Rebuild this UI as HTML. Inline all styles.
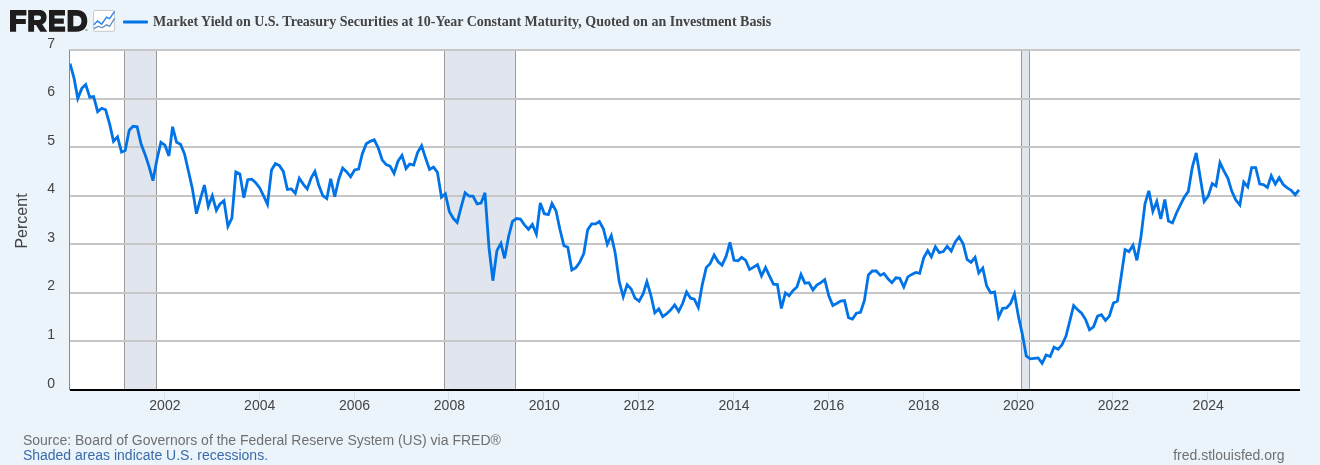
<!DOCTYPE html>
<html><head><meta charset="utf-8"><style>
html,body{margin:0;padding:0;background:#ebf3fb;width:1320px;height:465px;overflow:hidden}
svg{display:block;will-change:transform}
</style></head><body>
<svg width="1320" height="465" viewBox="0 0 1320 465">
<rect x="0" y="0" width="1320" height="465" fill="#ebf3fb"/>
<path fill="#1f1c1d" d="M10 10 H26.4 V15.4 H16.1 V19 H25.8 V23.9 H16.1 V31.7 H10 Z"/>
<path fill="#1f1c1d" fill-rule="evenodd" d="M28.2 10 H39 C44 10 46.6 12.6 46.6 17.3 C46.6 20.8 45 23.2 42.2 24.3 L47.2 31.7 H40.3 L36 25.1 H34.1 V31.7 H28.2 Z M34.1 15.5 V19.9 H38.8 C40.3 19.9 41 19.1 41 17.7 C41 16.3 40.3 15.5 38.8 15.5 Z"/>
<path fill="#1f1c1d" d="M49 10 H65 V15.4 H54.5 V18.5 H63.8 V23.7 H54.5 V26.5 H65.1 V31.7 H49 Z"/>
<path fill="#1f1c1d" fill-rule="evenodd" d="M67.6 10 H76.5 C83.5 10 87.3 14.3 87.3 20.85 C87.3 27.4 83.5 31.7 76.5 31.7 H67.6 Z M73.3 15.7 V26.2 H76.3 C79.7 26.2 81.5 24.3 81.5 20.95 C81.5 17.6 79.7 15.7 76.3 15.7 Z"/>
<circle cx="86.4" cy="30.1" r="1.15" fill="#a0a0a0"/>
<rect x="93.6" y="10.5" width="20.8" height="20.8" rx="1.2" fill="#fff" stroke="#c2c2c2" stroke-width="0.9"/>
<polyline points="93.9,24.8 97.5,21.1 101.7,24.2 106.5,17.2 109.6,18.6 114.6,11.4" fill="none" stroke="#2f86ea" stroke-width="1.5"/>
<polyline points="93.9,28.7 98.4,26.2 102,27.8 106.5,24.8 109.6,26.4 114.6,18.4" fill="none" stroke="#6590c0" stroke-width="1.4"/>
<rect x="123" y="20.4" width="25" height="3.2" rx="1" fill="#0073e6"/>
<text x="153" y="25.8" font-family="Liberation Serif" font-weight="bold" font-size="14" fill="#444444">Market Yield on U.S. Treasury Securities at 10-Year Constant Maturity, Quoted on an Investment Basis</text>
<defs><clipPath id="pc"><rect x="70" y="45" width="1230" height="345"/></clipPath></defs><rect x="69.5" y="50" width="1230.5" height="340" fill="#ffffff"/>
<rect x="124" y="50" width="32" height="340" fill="#e1e6ee"/><line x1="124.5" y1="50" x2="124.5" y2="390" stroke="#999" stroke-width="1"/><line x1="156.5" y1="50" x2="156.5" y2="390" stroke="#999" stroke-width="1"/><rect x="444" y="50" width="71" height="340" fill="#e1e6ee"/><line x1="444.5" y1="50" x2="444.5" y2="390" stroke="#999" stroke-width="1"/><line x1="515.5" y1="50" x2="515.5" y2="390" stroke="#999" stroke-width="1"/><rect x="1021" y="50" width="8" height="340" fill="#e1e6ee"/><line x1="1021.5" y1="50" x2="1021.5" y2="390" stroke="#999" stroke-width="1"/><line x1="1029.5" y1="50" x2="1029.5" y2="390" stroke="#999" stroke-width="1"/>
<line x1="69.5" y1="341" x2="1300" y2="341" stroke="#c6c6c6" stroke-width="2"/><line x1="69.5" y1="293" x2="1300" y2="293" stroke="#c6c6c6" stroke-width="2"/><line x1="69.5" y1="244" x2="1300" y2="244" stroke="#c6c6c6" stroke-width="2"/><line x1="69.5" y1="196" x2="1300" y2="196" stroke="#c6c6c6" stroke-width="2"/><line x1="69.5" y1="147" x2="1300" y2="147" stroke="#c6c6c6" stroke-width="2"/><line x1="69.5" y1="99" x2="1300" y2="99" stroke="#c6c6c6" stroke-width="2"/><line x1="69.5" y1="50" x2="1300" y2="50" stroke="#c6c6c6" stroke-width="2"/>
<line x1="69.5" y1="50" x2="69.5" y2="390" stroke="#888" stroke-width="1"/>
<path d="M70.00 63.60 L74.03 78.17 L77.79 98.57 L81.82 88.37 L85.71 84.49 L89.74 97.11 L93.63 96.63 L97.66 111.69 L101.68 108.29 L105.58 109.74 L109.60 123.83 L113.50 141.31 L117.52 136.94 L121.55 152.00 L125.18 150.54 L129.21 130.14 L133.10 126.26 L137.13 126.74 L141.02 143.74 L145.05 154.43 L149.07 166.57 L152.97 180.66 L156.99 159.29 L160.89 142.29 L164.91 145.20 L168.94 155.89 L172.57 126.74 L176.60 142.29 L180.49 144.23 L184.52 153.94 L188.41 170.94 L192.44 188.91 L196.46 213.69 L200.36 199.11 L204.38 185.03 L208.28 206.40 L212.30 195.71 L216.33 210.29 L219.97 203.97 L223.99 200.57 L227.89 226.31 L231.91 218.06 L235.81 171.91 L239.83 173.86 L243.86 197.66 L247.75 179.69 L251.78 179.20 L255.67 182.60 L259.70 187.94 L263.72 196.20 L267.49 204.46 L271.51 169.97 L275.41 163.66 L279.43 165.60 L283.33 171.43 L287.35 189.40 L291.38 188.91 L295.27 193.29 L299.30 178.23 L303.19 184.06 L307.22 188.91 L311.24 177.74 L314.88 171.43 L318.90 185.51 L322.80 195.71 L326.82 198.63 L330.72 178.71 L334.74 196.69 L338.77 179.20 L342.66 168.03 L346.69 171.91 L350.58 176.77 L354.61 169.97 L358.63 169.00 L362.27 153.94 L366.29 143.74 L370.19 141.31 L374.22 139.86 L378.11 147.63 L382.14 159.77 L386.16 164.63 L390.06 166.09 L394.08 173.37 L397.98 161.23 L402.00 155.40 L406.03 168.51 L409.66 164.14 L413.69 165.11 L417.58 152.49 L421.61 145.69 L425.50 157.83 L429.53 169.49 L433.55 167.06 L437.45 172.40 L441.47 197.17 L445.37 193.77 L449.39 211.74 L453.42 218.54 L457.18 222.43 L461.21 206.89 L465.10 192.80 L469.13 196.20 L473.02 196.20 L477.05 203.97 L481.07 203.00 L484.97 192.80 L488.99 247.69 L492.89 280.71 L496.91 250.60 L500.94 243.31 L504.57 258.37 L508.60 236.51 L512.49 221.46 L516.52 218.54 L520.41 219.03 L524.44 224.86 L528.47 229.23 L532.36 224.37 L536.39 234.09 L540.28 203.00 L544.31 213.69 L548.33 214.66 L551.97 203.49 L555.99 210.77 L559.89 229.23 L563.91 245.74 L567.81 247.20 L571.83 270.03 L575.86 267.60 L579.75 262.26 L583.78 253.51 L587.67 229.71 L591.70 223.89 L595.72 223.89 L599.36 221.46 L603.38 228.74 L607.28 244.29 L611.30 235.54 L615.20 253.03 L619.22 281.69 L623.25 296.74 L627.14 284.60 L631.17 288.97 L635.06 298.20 L639.09 301.11 L643.11 293.83 L646.88 281.69 L650.90 295.29 L654.80 312.77 L658.82 308.89 L662.72 316.66 L666.74 313.74 L670.77 309.86 L674.66 305.00 L678.69 311.31 L682.59 303.54 L686.61 291.89 L690.64 298.20 L694.27 299.17 L698.30 307.43 L702.19 285.09 L706.22 267.60 L710.11 263.71 L714.14 254.97 L718.16 261.77 L722.06 265.17 L726.08 256.43 L729.98 242.34 L734.00 260.31 L738.03 260.80 L741.66 257.40 L745.69 260.31 L749.58 269.54 L753.61 267.11 L757.50 264.69 L761.53 275.86 L765.55 267.60 L769.45 275.86 L773.47 284.11 L777.37 284.60 L781.39 308.40 L785.42 292.86 L789.05 295.77 L793.08 290.43 L796.97 287.03 L801.00 274.40 L804.89 283.14 L808.92 282.66 L812.94 289.94 L816.84 285.09 L820.86 282.66 L824.76 279.74 L828.78 295.77 L832.81 305.49 L836.58 303.54 L840.60 301.11 L844.50 300.63 L848.52 317.63 L852.42 319.09 L856.44 313.26 L860.47 312.29 L864.36 300.63 L868.39 274.89 L872.28 271.00 L876.31 271.00 L880.33 275.37 L883.97 273.43 L887.99 278.77 L891.89 282.66 L895.91 277.80 L899.81 278.29 L903.83 287.03 L907.86 276.83 L911.75 274.40 L915.78 272.46 L919.67 273.43 L923.70 257.89 L927.72 250.60 L931.36 256.91 L935.38 246.71 L939.28 252.54 L943.30 251.57 L947.20 246.23 L951.22 251.09 L955.25 241.86 L959.14 237.00 L963.17 243.80 L967.06 259.34 L971.09 262.26 L975.11 257.40 L978.75 272.94 L982.78 268.09 L986.67 286.06 L990.70 292.86 L994.59 291.89 L998.62 317.14 L1002.64 308.40 L1006.54 307.91 L1010.56 303.54 L1014.46 293.83 L1018.48 316.66 L1022.51 335.11 L1026.27 356.00 L1030.30 358.91 L1034.19 358.43 L1038.22 357.94 L1042.11 363.29 L1046.14 355.03 L1050.16 356.49 L1054.06 347.26 L1058.08 349.20 L1061.98 344.83 L1066.00 336.09 L1070.03 320.06 L1073.66 305.49 L1077.69 309.86 L1081.58 313.26 L1085.61 319.57 L1089.50 329.77 L1093.53 326.86 L1097.55 316.17 L1101.45 314.71 L1105.47 320.54 L1109.37 316.17 L1113.39 303.06 L1117.42 301.11 L1121.05 277.31 L1125.08 249.63 L1128.98 251.57 L1133.00 245.26 L1136.90 260.31 L1140.92 237.00 L1144.95 203.97 L1148.84 190.86 L1152.87 211.26 L1156.76 201.54 L1160.79 219.03 L1164.81 199.60 L1168.45 220.97 L1172.47 222.91 L1176.37 213.20 L1180.39 204.94 L1184.29 197.17 L1188.31 191.34 L1192.34 167.06 L1196.23 152.97 L1200.26 177.74 L1204.15 201.54 L1208.18 196.20 L1212.20 183.57 L1215.97 186.00 L1219.99 162.69 L1223.89 170.94 L1227.91 178.23 L1231.81 191.34 L1235.83 200.09 L1239.86 204.94 L1243.75 182.11 L1247.78 186.97 L1251.67 167.54 L1255.70 167.54 L1259.72 184.06 L1263.36 184.54 L1267.38 187.46 L1271.28 175.80 L1275.30 184.06 L1279.20 177.74 L1283.22 184.54 L1287.25 187.94 L1291.15 190.37 L1295.17 194.74 L1299.07 189.89" fill="none" stroke="#0073e6" stroke-width="2.8" stroke-linejoin="miter" stroke-miterlimit="4" stroke-linecap="butt" clip-path="url(#pc)"/>
<rect x="70" y="389" width="1230" height="2" fill="#000"/>
<line x1="164.5" y1="391" x2="164.5" y2="400" stroke="#d9e1eb" stroke-width="1"/><line x1="259.5" y1="391" x2="259.5" y2="400" stroke="#d9e1eb" stroke-width="1"/><line x1="354.5" y1="391" x2="354.5" y2="400" stroke="#d9e1eb" stroke-width="1"/><line x1="448.5" y1="391" x2="448.5" y2="400" stroke="#d9e1eb" stroke-width="1"/><line x1="543.5" y1="391" x2="543.5" y2="400" stroke="#d9e1eb" stroke-width="1"/><line x1="638.5" y1="391" x2="638.5" y2="400" stroke="#d9e1eb" stroke-width="1"/><line x1="733.5" y1="391" x2="733.5" y2="400" stroke="#d9e1eb" stroke-width="1"/><line x1="828.5" y1="391" x2="828.5" y2="400" stroke="#d9e1eb" stroke-width="1"/><line x1="923.5" y1="391" x2="923.5" y2="400" stroke="#d9e1eb" stroke-width="1"/><line x1="1017.5" y1="391" x2="1017.5" y2="400" stroke="#d9e1eb" stroke-width="1"/><line x1="1112.5" y1="391" x2="1112.5" y2="400" stroke="#d9e1eb" stroke-width="1"/><line x1="1207.5" y1="391" x2="1207.5" y2="400" stroke="#d9e1eb" stroke-width="1"/>
<g font-family="Liberation Sans" font-size="14" fill="#444444"><text x="55" y="387.5" text-anchor="end">0</text><text x="55" y="338.9" text-anchor="end">1</text><text x="55" y="290.4" text-anchor="end">2</text><text x="55" y="241.8" text-anchor="end">3</text><text x="55" y="193.2" text-anchor="end">4</text><text x="55" y="144.6" text-anchor="end">5</text><text x="55" y="96.1" text-anchor="end">6</text><text x="55" y="47.5" text-anchor="end">7</text></g>
<g font-family="Liberation Sans" font-size="14" fill="#444444"><text x="164.9" y="410" text-anchor="middle">2002</text><text x="259.7" y="410" text-anchor="middle">2004</text><text x="354.6" y="410" text-anchor="middle">2006</text><text x="449.4" y="410" text-anchor="middle">2008</text><text x="544.3" y="410" text-anchor="middle">2010</text><text x="639.1" y="410" text-anchor="middle">2012</text><text x="734.0" y="410" text-anchor="middle">2014</text><text x="828.8" y="410" text-anchor="middle">2016</text><text x="923.7" y="410" text-anchor="middle">2018</text><text x="1018.5" y="410" text-anchor="middle">2020</text><text x="1113.4" y="410" text-anchor="middle">2022</text><text x="1208.2" y="410" text-anchor="middle">2024</text></g>
<text transform="translate(26.9 221) rotate(-90)" text-anchor="middle" font-family="Liberation Sans" font-size="16" fill="#444444">Percent</text>
<text x="22.9" y="445" font-family="Liberation Sans" font-size="14" fill="#707070">Source: Board of Governors of the Federal Reserve System (US) via FRED®</text>
<text x="22.9" y="459.8" font-family="Liberation Sans" font-size="14" fill="#3a6ba8">Shaded areas indicate U.S. recessions.</text>
<text x="1284.5" y="459.9" text-anchor="end" font-family="Liberation Sans" font-size="14" fill="#707070">fred.stlouisfed.org</text>
</svg>
</body></html>
